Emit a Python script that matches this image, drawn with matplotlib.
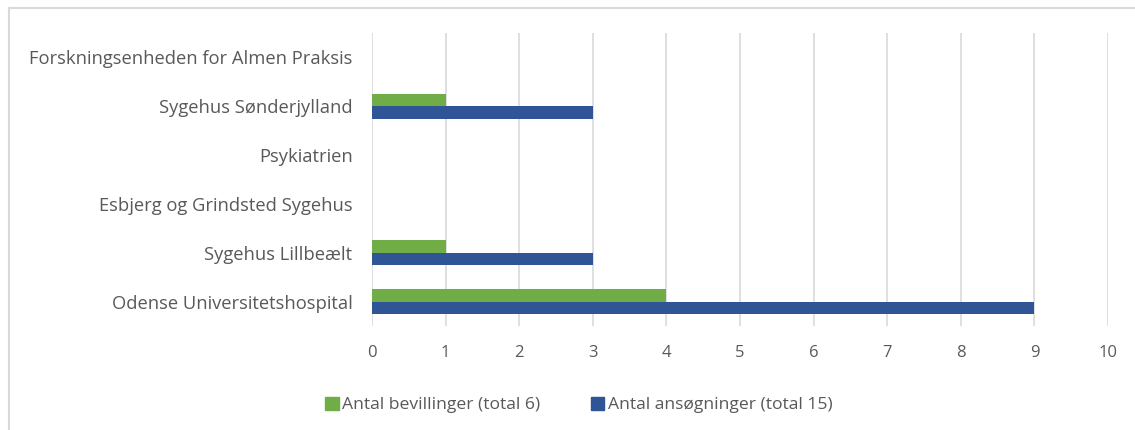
import numpy as np
import matplotlib.pyplot as plt
from matplotlib.lines import Line2D
from matplotlib.patches import Patch

categories = ["Odense Universitetshospital", "Sygehus Lillbeælt",
              "Esbjerg og Grindsted Sygehus", "Psykiatrien",
              "Sygehus Sønderjylland", "Forskningsenheden for Almen Praksis"]
bevillinger = [4, 1, 0, 0, 1, 0]
ansogninger = [9, 3, 0, 0, 3, 0]
labels = ["Antal bevillinger (total 6)", "Antal ansøgninger (total 15)"]

green = "#70AD47"
blue = "#2F5597"
txt = "#595959"

plt.rcParams['font.family'] = ['Open Sans', 'DejaVu Sans']

fig = plt.figure(figsize=(11.35, 4.3), dpi=100)
ax = fig.add_axes([0.3278, 0.2419, 0.9762 - 0.3278, 0.9233 - 0.2419])

y = np.arange(len(categories))
h = 0.256
ax.barh(y + h / 2, bevillinger, height=h, color=green, zorder=3)
ax.barh(y - h / 2, ansogninger, height=h, color=blue, zorder=3)

ax.set_xlim(0, 10)
ax.set_ylim(-0.5, len(categories) - 0.5)
ax.set_xticks(range(11))
ax.set_yticks(y)
ax.set_yticklabels(categories, fontsize=13.2)
ax.grid(axis='x', color='#D9D9D9', linewidth=1.2, zorder=0)
for s in ax.spines.values():
    s.set_visible(False)
ax.tick_params(axis='both', length=0, colors=txt)
ax.tick_params(axis='x', pad=14, labelsize=12)
ax.tick_params(axis='y', pad=14)

handles = [Patch(color=green), Patch(color=blue)]
fig.legend(handles, labels, loc='center', bbox_to_anchor=(0.51, 0.058), ncol=2,
           frameon=False, fontsize=12.6, labelcolor=txt, handlelength=0.75,
           handleheight=0.75, handletextpad=0.2, columnspacing=2.9)

# frame lines at top and left
fig.add_artist(Line2D([0.0075, 1.0], [0.981, 0.981], color='#D9D9D9', linewidth=1.5))
fig.add_artist(Line2D([0.0075, 0.0075], [0.0, 0.981], color='#D9D9D9', linewidth=1.5))

fig.savefig("out.png", dpi=100)
